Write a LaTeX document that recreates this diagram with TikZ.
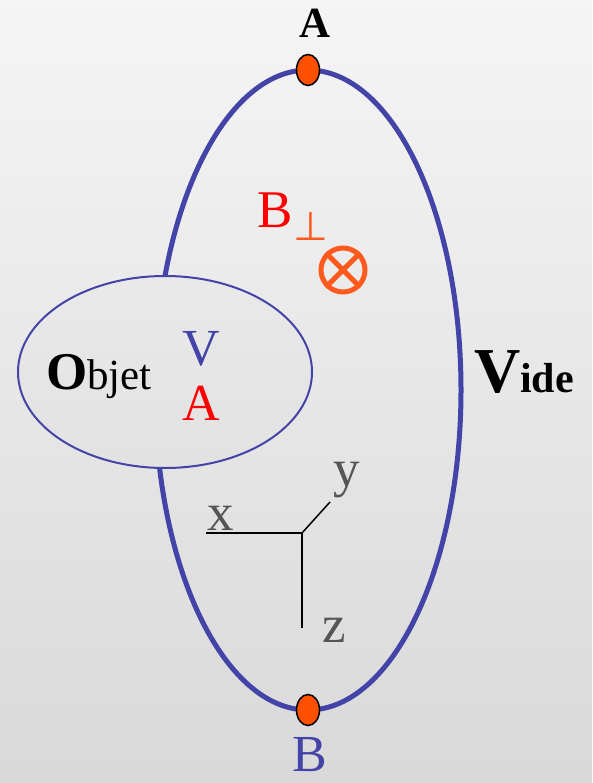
\documentclass[tikz,border=0pt]{standalone}
\usepackage{fontspec}
\setmainfont{Liberation Serif}
\newfontfamily\symfont{DejaVu Sans}
\definecolor{vblue}{HTML}{4444A8}
\definecolor{dotorange}{HTML}{FF5000}
\definecolor{perporange}{HTML}{FF5A1E}
\definecolor{axgray}{HTML}{555555}
\tikzset{
  lbl/.style={inner sep=0pt, outer sep=0pt, anchor=base},
  dot/.style={ellipse, draw=black, line width=1.5pt, fill=dotorange, minimum width=23pt, minimum height=31pt, inner sep=0pt},
  axis/.style={draw=black, line width=1.5pt},
}
\usetikzlibrary{shapes.geometric}
\newcommand{\fsz}[1]{\fontsize{#1pt}{#1pt}\selectfont}
\begin{document}
\begin{tikzpicture}[x=1pt,y=-1pt]
\useasboundingbox (0,0) rectangle (592,783);
\shade[top color=white!96!black, bottom color=white!85!black] (0,0) rectangle (592,783);
% Vide region
\draw[vblue, line width=5pt] (308,390) ellipse [x radius=153, y radius=320];
% Objet region
\shade[top color=white!91.5!black, bottom color=white!88.5!black] (165,372) ellipse [x radius=147, y radius=96];
\draw[vblue, line width=2pt] (165,372) ellipse [x radius=147, y radius=96];
% points A and B
\node[dot] (dA) at (308,70) {};
\node[dot] (dB) at (308,710) {};
\node[lbl, font=\fsz{43}\bfseries] (tA) at (315,38) {A};
\node[lbl, font=\fsz{52}, text=vblue] (tB) at (310,771) {B};
% B perp
\node[lbl, anchor=base west, font=\fsz{53}, text=red] (Bp) at (257,228) {B};
\node[lbl, anchor=base west, font=\fsz{40}\symfont, text=perporange] (perp) at (293,241) {⊥};
\node[circle, draw=perporange, line width=5pt, minimum size=44pt, inner sep=0pt] (otimes) at (343,270) {};
\draw[perporange, line width=5pt] (otimes.north east) -- (otimes.south west);
\draw[perporange, line width=5pt] (otimes.north west) -- (otimes.south east);
% Objet
\node[lbl, anchor=base west] (objet) at (46,389) {\fsz{53}\bfseries O\fsz{43}\mdseries bjet};
\node[lbl, font=\fsz{52}, text=vblue] (oV) at (201,365) {V};
\node[lbl, font=\fsz{52}, text=red] (oA) at (201,420) {A};
% Vide
\node[lbl, anchor=base west] (vide) at (474,392) {\fsz{64}\bfseries V\fsz{42}ide};
% axes
\coordinate (O) at (302,533);
\coordinate (xe) at (206,533);
\coordinate (ye) at (330,502);
\coordinate (ze) at (302,628);
\draw[axis] (O) -- (xe);
\draw[axis] (O) -- (ye);
\draw[axis] (O) -- (ze);
\node[lbl, font=\fsz{53}, text=axgray] (lx) at (221,530) {x};
\node[lbl, font=\fsz{53}, text=axgray] (ly) at (347,486) {y};
\node[lbl, font=\fsz{53}, text=axgray] (lz) at (334,642) {z};
\end{tikzpicture}
\end{document}
